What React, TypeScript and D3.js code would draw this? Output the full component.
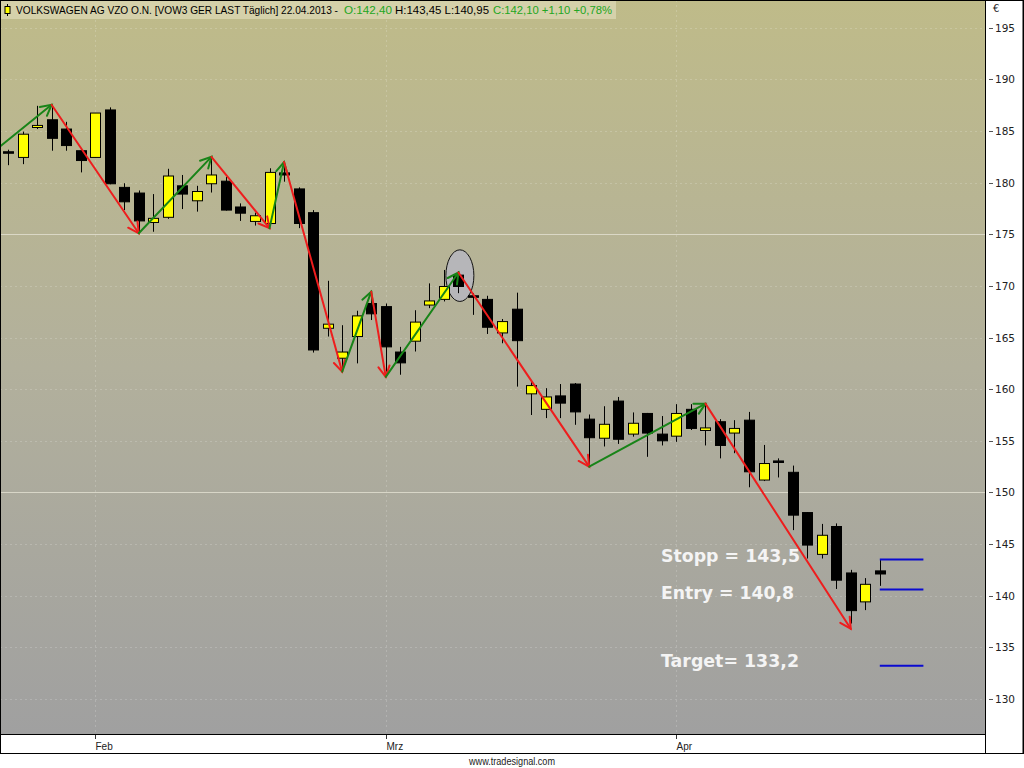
import React from "react";
import * as d3 from "d3";

// daily candles VOW3, 24.01.2013 - 22.04.2013
const dates = [
  "2013-01-24", "2013-01-25", "2013-01-28", "2013-01-29", "2013-01-30", "2013-01-31",
  "2013-02-01", "2013-02-04", "2013-02-05", "2013-02-06", "2013-02-07", "2013-02-08",
  "2013-02-11", "2013-02-12", "2013-02-13", "2013-02-14", "2013-02-15", "2013-02-18",
  "2013-02-19", "2013-02-20", "2013-02-21", "2013-02-22", "2013-02-25", "2013-02-26",
  "2013-02-27", "2013-02-28", "2013-03-01", "2013-03-04", "2013-03-05", "2013-03-06",
  "2013-03-07", "2013-03-08", "2013-03-11", "2013-03-12", "2013-03-13", "2013-03-14",
  "2013-03-15", "2013-03-18", "2013-03-19", "2013-03-20", "2013-03-21", "2013-03-22",
  "2013-03-25", "2013-03-26", "2013-03-27", "2013-03-28", "2013-04-02", "2013-04-03",
  "2013-04-04", "2013-04-05", "2013-04-08", "2013-04-09", "2013-04-10", "2013-04-11",
  "2013-04-12", "2013-04-15", "2013-04-16", "2013-04-17", "2013-04-18", "2013-04-19",
  "2013-04-22",
];
const opens = [
  183.0, 182.45, 185.35, 186.1, 185.2, 183.1, 182.45, 187.05, 179.55, 179.0, 176.15, 176.65,
  179.7, 178.25, 179.9, 180.15, 177.65, 176.25, 176.05, 180.95, 179.4, 177.1, 165.9, 163.0,
  165.1, 168.3, 168.0, 163.6, 164.65, 168.15, 168.7, 171.05, 169.05, 168.7, 165.45, 167.75,
  159.55, 158.05, 159.35, 160.5, 157.1, 155.25, 158.85, 155.65, 157.65, 155.65, 155.45, 158.05,
  156.0, 156.85, 155.75, 157.0, 151.2, 153.05, 151.95, 148.05, 144.0, 146.7, 142.2, 139.4,
  142.4,
];
const highs = [
  183.2, 184.95, 187.45, 187.55, 185.9, 183.2, 186.75, 187.3, 179.95, 179.25, 178.9, 181.35,
  180.75, 179.7, 182.5, 180.55, 178.0, 177.1, 181.4, 182.0, 179.55, 177.35, 170.5, 166.2,
  167.6, 169.4, 168.3, 164.1, 167.65, 170.25, 171.55, 171.45, 169.3, 169.05, 166.8, 169.35,
  160.75, 160.1, 160.5, 160.6, 157.55, 158.35, 159.25, 157.75, 157.7, 157.4, 158.55, 158.55,
  158.55, 157.1, 157.0, 157.8, 154.6, 153.3, 152.6, 148.1, 146.95, 147.0, 142.5, 141.7,
  143.45,
];
const lows = [
  181.7, 181.8, 185.2, 183.1, 183.1, 181.0, 182.45, 179.85, 177.35, 175.15, 175.25, 176.5,
  177.45, 177.2, 179.05, 177.3, 176.3, 175.85, 175.9, 180.1, 175.6, 163.55, 165.1, 161.85,
  162.5, 166.7, 161.7, 161.4, 163.65, 167.85, 168.5, 169.3, 167.2, 165.35, 164.45, 160.25,
  157.5, 157.2, 157.2, 156.55, 152.65, 154.45, 154.7, 155.4, 153.45, 154.55, 154.9, 156.05,
  154.55, 153.3, 153.8, 150.5, 151.1, 151.45, 146.35, 143.6, 143.6, 140.65, 137.3, 138.6,
  140.95,
];
const closes = [
  182.95, 184.7, 185.55, 184.3, 183.6, 182.15, 186.75, 179.9, 178.15, 176.3, 176.55, 180.65,
  178.9, 179.15, 180.75, 177.35, 177.05, 176.8, 181.0, 180.75, 176.05, 163.8, 166.3, 163.6,
  167.1, 167.3, 164.1, 162.55, 166.5, 168.55, 169.95, 169.95, 168.9, 166.0, 166.55, 164.7,
  160.35, 159.25, 158.65, 157.8, 155.3, 156.6, 155.15, 156.7, 155.75, 155.0, 157.65, 156.2,
  156.25, 154.55, 156.2, 152.0, 152.8, 152.9, 147.8, 144.9, 145.85, 141.5, 138.55, 141.1,
  142.1,
];

const priceTicks = [195, 190, 185, 180, 175, 170, 165, 160, 155, 150, 145, 140, 135, 130];
const strongGrid = [175, 150];
const monthLabels = ["Feb", "Mrz", "Apr"];
const monthStarts = ["2013-02-01", "2013-03-01", "2013-04-02"];

// zigzag pivots (bar position, price)
const swingPos = [-0.55, 3, 9, 14, 18, 19, 23, 25, 26, 31, 40, 48, 58];
const swingPrice = [183.5, 187.55, 175.1, 182.5, 175.6, 182.0, 161.7, 169.45, 161.2, 171.3, 152.5, 158.6, 136.8];

const levelNames = ["Stopp = 143,5", "Entry = 140,8", "Target= 133,2"];
const levelValues = [143.5, 140.6, 133.2];

const titleParts = [
  "VOLKSWAGEN AG VZO O.N.  [VOW3 GER LAST Täglich] 22.04.2013 -",
  "O:142,40",
  "H:143,45 L:140,95",
  "C:142,10 +1,10 +0,78%",
];

const W = 1024;
const plotW = 985;
const plotH = 734;

const x = d3.scaleLinear().domain([-0.55, 67.24]).range([0, plotW]);
const y = d3.scaleLinear().domain([126.6, 197.7]).range([plotH, 0]);

const RED = "#ee1d1d";
const GREEN = "#188418";

const arrowHead = (x1, y1, x2, y2) => {
  const a = Math.atan2(y2 - y1, x2 - x1);
  const L = 12;
  const s = (28 * Math.PI) / 180;
  const p1 = [x2 - L * Math.cos(a - s), y2 - L * Math.sin(a - s)];
  const p2 = [x2 - L * Math.cos(a + s), y2 - L * Math.sin(a + s)];
  return `M${p1[0]},${p1[1]}L${x2},${y2}L${p2[0]},${p2[1]}`;
};

export default function App() {
  const bw = 10;
  const segs = swingPos.slice(1).map((p, i) => ({
    x1: x(swingPos[i]),
    y1: y(swingPrice[i]),
    x2: x(p),
    y2: y(swingPrice[i + 1]),
    up: swingPrice[i + 1] > swingPrice[i],
  }));

  // title segment layout [x, length, colour]
  const titleLayout = [
    [16, 322, "#000"],
    [344, 48, "#22a622"],
    [395, 94, "#000"],
    [493, 119, "#22a622"],
  ];

  return (
    <svg
      width={W}
      height={768}
      style={{ position: "fixed", left: 0, top: 0, background: "#fff" }}
      fontFamily="DejaVu Sans, Verdana, sans-serif"
    >
      <defs>
        <linearGradient id="bg" x1="0" y1="0" x2="0" y2="1">
          <stop offset="0" stopColor="#bfbb89" />
          <stop offset="0.5" stopColor="#b2b09c" />
          <stop offset="1" stopColor="#a0a0a0" />
        </linearGradient>
        <clipPath id="plot">
          <rect x={0} y={0} width={plotW} height={plotH} />
        </clipPath>
      </defs>

      <rect x={0} y={0} width={plotW} height={plotH} fill="url(#bg)" />

      {/* grid */}
      {priceTicks.map((t) => (
        <line
          key={"g" + t}
          x1={0}
          x2={plotW}
          y1={Math.round(y(t)) + 0.5}
          y2={Math.round(y(t)) + 0.5}
          stroke={strongGrid.includes(t) ? "#e4e1d2" : "#ffffff"}
          strokeOpacity={strongGrid.includes(t) ? 0.8 : 0.18}
          strokeDasharray={strongGrid.includes(t) ? null : "2,3"}
        />
      ))}
      {monthStarts.map((d) => {
        const xi = Math.round(x(dates.indexOf(d))) + 0.5;
        return (
          <line key={"v" + d} x1={xi} x2={xi} y1={0} y2={plotH} stroke="#ffffff" strokeOpacity={0.18} strokeDasharray="2,3" />
        );
      })}

      <g clipPath="url(#plot)">
        {/* highlight ellipse */}
        <ellipse cx={x(31.1)} cy={y(171.0)} rx={14} ry={y(168.5) - y(171.0)} fill="#b6b6b9" stroke="#111" strokeWidth={1} />

        {/* candles */}
        {dates.map((d, i) => {
          const cx = Math.round(x(i)) + 0.5;
          const up = closes[i] >= opens[i];
          const top = y(Math.max(opens[i], closes[i]));
          const bot = y(Math.min(opens[i], closes[i]));
          return (
            <g key={d}>
              <line x1={cx} x2={cx} y1={y(highs[i])} y2={y(lows[i])} stroke="#000" strokeWidth={1} />
              <rect
                x={cx - bw / 2}
                y={top}
                width={bw}
                height={Math.max(bot - top, 1.5)}
                fill={up ? "#ffff00" : "#000"}
                stroke="#000"
                strokeWidth={1}
              />
            </g>
          );
        })}

        {/* zigzag arrows */}
        {segs.map((s, i) => (
          <g key={"s" + i} stroke={s.up ? GREEN : RED} strokeWidth={2} fill="none" strokeLinecap="round">
            <line x1={s.x1} y1={s.y1} x2={s.x2} y2={s.y2} />
            <path d={arrowHead(s.x1, s.y1, s.x2, s.y2)} />
          </g>
        ))}

        {/* trade levels */}
        {levelValues.map((v) => (
          <line key={"l" + v} x1={x(60)} x2={x(63)} y1={y(v)} y2={y(v)} stroke="#0a0ad0" strokeWidth={2} />
        ))}
      </g>

      <g fill="#f4f4f4" fontWeight="bold" fontSize={17}>
        <text x={661} y={562} textLength={139} lengthAdjust="spacingAndGlyphs">{levelNames[0]}</text>
        <text x={661} y={599} textLength={133} lengthAdjust="spacingAndGlyphs">{levelNames[1]}</text>
        <text x={661} y={667} textLength={138} lengthAdjust="spacingAndGlyphs">{levelNames[2]}</text>
      </g>

      {/* title */}
      <rect x={1} y={1} width={615} height={18} fill="#d5d1aa" />
      <line x1={7.5} x2={7.5} y1={4} y2={16} stroke="#000" />
      <rect x={5} y={6.5} width={5} height={7} fill="#ffff00" stroke="#000" />
      {titleParts.map((t, i) => (
        <text
          key={"tt" + i}
          x={titleLayout[i][0]}
          y={14}
          fontSize={10.3}
          fill={titleLayout[i][2]}
          fontFamily="Liberation Sans, Arial, sans-serif"
          textLength={titleLayout[i][1]}
          lengthAdjust="spacingAndGlyphs"
        >
          {t}
        </text>
      ))}

      {/* right axis */}
      <rect x={plotW + 0.5} y={0.5} width={W - plotW - 1.5} height={753} fill="#fff" stroke="#000" />
      <text x={993} y={12} fontSize={10} fill="#222">€</text>
      {priceTicks.map((t) => (
        <g key={"t" + t}>
          <line x1={989} x2={993} y1={Math.round(y(t)) + 0.5} y2={Math.round(y(t)) + 0.5} stroke="#555" />
          <text x={995} y={y(t) + 4} fontSize={10.5} fill="#222">
            {t}
          </text>
        </g>
      ))}

      {/* bottom axis */}
      <rect x={0.5} y={plotH + 0.5} width={plotW} height={19} fill="#fff" stroke="#000" />
      {monthStarts.map((d, i) => {
        const xi = Math.round(x(dates.indexOf(d))) + 0.5;
        return (
          <g key={"m" + d}>
            <line x1={xi} x2={xi} y1={plotH + 1} y2={plotH + 5} stroke="#333" />
            <text x={xi} y={plotH + 16} fontSize={10} fill="#222" fontFamily="Liberation Sans, Arial, sans-serif">
              {monthLabels[i]}
            </text>
          </g>
        );
      })}
      <rect x={0.5} y={0.5} width={W - 1} height={753} fill="none" stroke="#000" />
      <line x1={plotW + 0.5} x2={plotW + 0.5} y1={0} y2={plotH} stroke="#000" />

      <text x={512} y={765} fontSize={10} textAnchor="middle" fill="#222" fontFamily="Liberation Sans, Arial, sans-serif" textLength={86} lengthAdjust="spacingAndGlyphs">
        www.tradesignal.com
      </text>
    </svg>
  );
}
